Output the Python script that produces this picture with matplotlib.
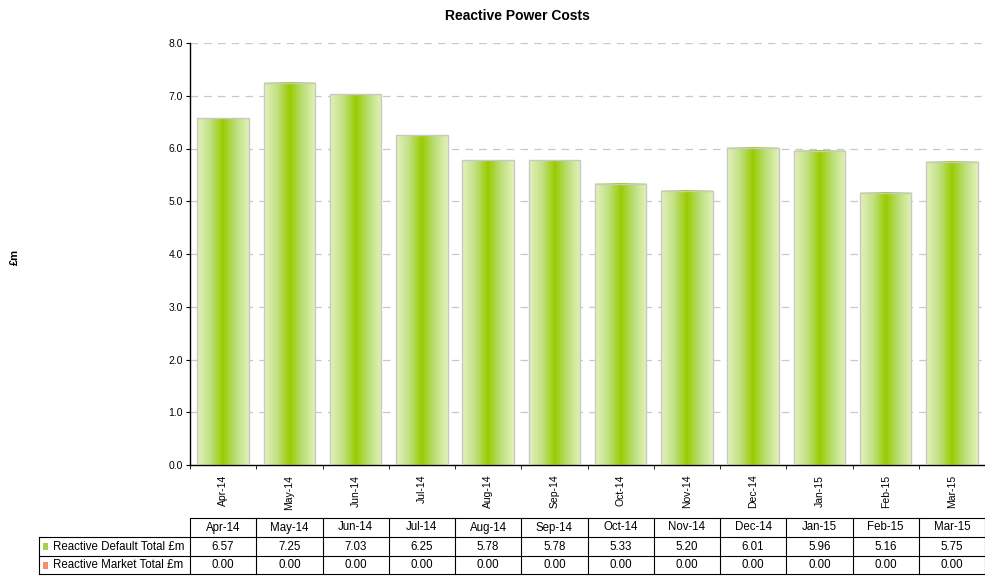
import numpy as np
import matplotlib
matplotlib.use('Agg')
import matplotlib.pyplot as plt
from matplotlib.colors import LinearSegmentedColormap
from matplotlib.patches import Rectangle
from matplotlib.transforms import blended_transform_factory

months = ['Apr-14', 'May-14', 'Jun-14', 'Jul-14', 'Aug-14', 'Sep-14',
          'Oct-14', 'Nov-14', 'Dec-14', 'Jan-15', 'Feb-15', 'Mar-15']
default_total = [6.57, 7.25, 7.03, 6.25, 5.78, 5.78, 5.33, 5.20, 6.01, 5.96, 5.16, 5.75]
market_total = [0.00] * 12
row_names = ['Reactive Default Total £m', 'Reactive Market Total £m']

plt.rcParams['font.family'] = ['Liberation Sans', 'DejaVu Sans']

W, H = 985, 578
fig = plt.figure(figsize=(W / 100, H / 100), dpi=100)
ax = fig.add_axes([190 / W, 1 - 465 / H, 795 / W, (465 - 43) / H])

cmap = LinearSegmentedColormap.from_list(
    'bar', ['#e4f2bb', '#c2e184', '#99cc00', '#bcdf7a', '#e4f2bb'])
grad = np.linspace(0, 1, 256).reshape(1, -1)
bw = 0.78
x = np.arange(len(months))
for xi, v in zip(x, default_total):
    ax.imshow(grad, cmap=cmap, extent=(xi - bw / 2, xi + bw / 2, 0, v),
              aspect='auto', zorder=2, interpolation='bilinear')
    ax.add_patch(Rectangle((xi - bw / 2, 0), bw, v, fill=False,
                           edgecolor='#c8c8c8', lw=1.0, zorder=3))

ax.set_xlim(-0.5, len(months) - 0.5)
ax.set_ylim(0, 8)
ax.set_yticks(np.arange(0, 8.1, 1))
ax.set_yticklabels(['%.1f' % t for t in np.arange(0, 8.1, 1)], fontsize=7.5)
ax.set_xticks(x)
ax.set_xticklabels(months, rotation=90, fontsize=7.5)
ax.set_xticks(np.arange(-0.5, len(months), 1), minor=True)
ax.tick_params(axis='x', which='major', length=0, pad=7)
ax.tick_params(axis='x', which='minor', length=3, direction='out')
ax.tick_params(axis='y', length=3, direction='out', pad=2)
ax.yaxis.grid(True, color='#c8c8c8', linestyle=(0, (6, 5)), lw=0.9)
ax.set_axisbelow(True)
for s in ['top', 'right']:
    ax.spines[s].set_visible(False)
ax.spines['left'].set_linewidth(1.0)
ax.spines['bottom'].set_linewidth(1.0)

fig.text(517 / W, 1 - 16 / H, 'Reactive Power Costs', ha='center', va='center',
         fontsize=10, fontweight='bold')
fig.text(15 / W, 1 - 257 / H, '£m', ha='center', va='center', rotation=90,
         fontsize=8, fontweight='bold')

# table under the chart
tr = blended_transform_factory(ax.transData, fig.transFigure)
ys = [1 - 518 / H, 1 - 537 / H, 1 - 556 / H, 1 - 574 / H]
lx = -0.5 - (190 - 39) / (795 / 12)
kw = dict(color='black', lw=0.8, transform=tr, clip_on=False)
ax.plot([-0.5, 11.5], [ys[0], ys[0]], **kw)
for yy in ys[1:]:
    ax.plot([lx, 11.5], [yy, yy], **kw)
for xe in np.arange(-0.5, 12, 1):
    ax.plot([xe, xe], [ys[0], ys[3]], **kw)
ax.plot([lx, lx], [ys[1], ys[3]], **kw)

fs = 8.3
for i, m in enumerate(months):
    ax.text(i, (ys[0] + ys[1]) / 2, m, ha='center', va='center', fontsize=fs,
            transform=tr)
    ax.text(i, (ys[1] + ys[2]) / 2, '%.2f' % default_total[i], ha='center',
            va='center', fontsize=fs, transform=tr)
    ax.text(i, (ys[2] + ys[3]) / 2, '%.2f' % market_total[i], ha='center',
            va='center', fontsize=fs, transform=tr)

sw_colors = ['#a8d050', '#f09070']
for r, name in enumerate(row_names):
    yc = (ys[r + 1] + ys[r + 2]) / 2
    fig.patches.append(Rectangle((43 / W, yc - 3.5 / H), 5 / W, 7 / H,
                                 facecolor=sw_colors[r], edgecolor='none',
                                 transform=fig.transFigure))
    fig.text(53 / W, yc, name, ha='left', va='center', fontsize=fs)

fig.savefig('out.png', dpi=100)
